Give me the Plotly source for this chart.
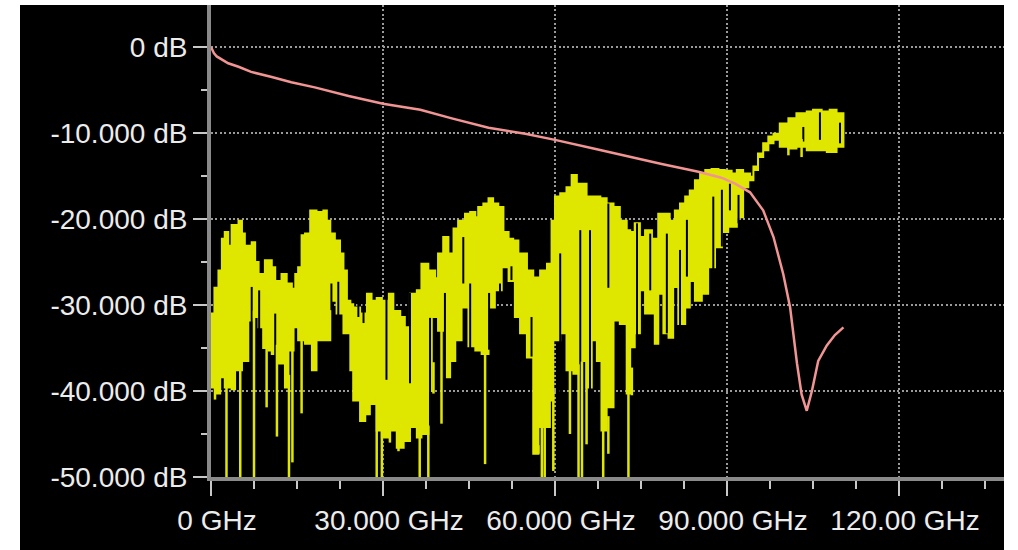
import numpy as np
import plotly.graph_objects as go

# ---------------- data ----------------
# Yellow trace: upper envelope (GHz, dB)
up_freq = [0.0, 0.6, 1.3, 1.9, 2.4, 3.0, 3.6, 4.8, 5.4, 5.9, 7.1, 7.7, 8.3, 9.4, 10.6, 11.2, 12.3, 13.2, 14.1, 14.7,
           15.2, 15.8, 16.4, 17.3, 18.4, 19.6, 20.2, 20.8, 21.6, 22.5, 23.1, 23.7, 24.3, 24.8, 26.0, 27.2, 28.0, 28.9,
           29.8, 31.0, 31.8, 33.0, 33.8, 34.7, 35.9, 36.7, 37.9, 39.1, 39.6, 40.5, 41.4, 42.3, 43.1, 44.3, 45.2, 46.1,
           46.6, 47.5, 48.4, 49.2, 50.1, 51.0, 51.9, 52.7, 53.6, 55.1, 56.2, 57.4, 58.6, 59.4, 60.0, 60.9, 62.0, 62.9,
           63.8, 64.9, 65.5, 66.7, 67.9, 69.0, 70.2, 71.3, 72.5, 73.1, 73.9, 74.8, 75.7, 76.9, 78.0, 79.2, 80.0, 80.9,
           81.8, 82.7, 83.5, 84.4, 85.3, 86.2, 87.3, 88.5, 89.6, 90.8, 91.7, 92.8, 94.0, 94.6, 95.4, 96.3, 97.2, 98.1,
           99.2, 100.7, 102.1, 103.9, 105.0, 106.5, 107.9, 109.1, 110.3]
up_db = [-31, -28, -26, -22.3, -21.5, -23.1, -20.7, -20.2, -21.7, -23.1, -22.7, -25, -26.4, -24.8, -25.6, -27.2, -26.4,
         -27.5, -28.1, -26.4, -25.6, -21.9, -21.7, -19, -19.2, -19, -20.2, -21.7, -22.5, -24, -26, -29.5, -29.9, -30.3,
         -31, -28.7, -29.5, -29.2, -29.5, -28.7, -30.7, -31.4, -32.6, -28.7, -28.3, -25.2, -26, -26.9, -24, -22.1, -24,
         -21.1, -20.2, -19.4, -19.2, -19.8, -18.6, -18.2, -17.6, -18.2, -18.6, -21.5, -22.3, -22.5, -24, -26, -26.8,
         -26, -25.2, -20.2, -17.4, -17, -16.3, -14.9, -15.9, -15.9, -17.4, -17.4, -17.6, -18.2, -18.6, -20.2, -21.3,
         -21.5, -20.5, -22.1, -21.3, -22.3, -19.4, -19.4, -20.2, -19, -18.2, -17.4, -16.7, -15.5, -14.7, -14.3, -14.2,
         -14.3, -14.4, -14.7, -14.3, -14.7, -15.5, -13.9, -12.4, -11.2, -10.4, -10.1, -8.9, -8.3, -7.7, -7.5, -7.3,
         -7.5, -7.3, -7.7, -8.5]

# Yellow trace: lower envelope (GHz, dB)
lo_freq = [0.0, 0.7, 1.6, 2.4, 3.6, 4.2, 5.4, 6.5, 7.1, 8.3, 9.1, 10.0, 10.6, 11.7, 12.9, 13.5, 14.4, 15.2, 16.4, 17.6,
           18.4, 19.6, 20.8, 21.9, 23.1, 24.3, 24.8, 26.0, 26.9, 27.7, 28.9, 29.8, 31.2, 32.4, 33.6, 34.7, 35.9, 36.7,
           37.9, 38.5, 39.6, 40.8, 41.7, 42.6, 43.7, 44.9, 46.1, 47.2, 48.4, 49.5, 50.7, 51.9, 53.0, 53.9, 55.1, 56.2,
           57.1, 58.0, 59.1, 59.7, 60.9, 62.0, 63.2, 64.4, 65.5, 66.4, 67.3, 68.1, 69.0, 70.2, 71.3, 72.5, 73.1, 73.9,
           74.8, 75.7, 76.6, 77.4, 78.0, 78.9, 79.8, 80.6, 81.5, 82.7, 83.5, 84.4, 85.6, 86.7, 87.9, 89.1, 90.2, 91.7,
           92.8, 93.7, 94.6, 95.4, 96.3, 97.2, 98.1, 99.2, 100.7, 102.1, 103.9, 105.6, 107.4, 109.1, 110.3]
lo_db = [-36.5, -39.6, -40.3, -38.4, -39.6, -39.8, -37.6, -36.5, -31.8, -31.4, -32.6, -35, -35.3, -35.7, -36.8, -39.6,
         -35.3, -32.6, -34.1, -34.5, -37.6, -34.1, -34.1, -29.5, -31, -33.3, -37.6, -41.1, -43.5, -42.7, -41.5, -44.6,
         -45.4, -44.6, -46.6, -45.8, -44.2, -45.4, -45, -40, -31.4, -33, -38.4, -36.5, -34.1, -30.3, -34.8, -35.3,
         -35.7, -30.3, -28.3, -25.6, -27.2, -31.4, -33.3, -36.1, -47.3, -44.2, -44.2, -41.1, -34.1, -33.3, -37.6, -38,
         -36.5, -39.6, -34.1, -36.5, -44.6, -41.9, -31.8, -32.2, -40.3, -34.9, -33.3, -28.3, -31, -31, -34.5, -28.7,
         -33.3, -33.8, -27.9, -32.2, -30.3, -27.2, -29.5, -28.7, -25.6, -23.3, -21.5, -20.9, -19.8, -16.3, -15.1,
         -14.3, -12.8, -12, -11.2, -10.8, -11.6, -11.8, -11.6, -12, -12, -12.2, -11.6]

# Yellow trace: deep downward spikes (GHz, dB at spike tip)
spike_freq = [0.7, 2.7, 5.1, 7.5, 9.7, 11.5, 13.6, 14.2, 15.8, 26.6, 28.9, 29.8, 31.2, 32.7, 36.4, 37.9, 38.8, 40.2,
              47.8, 57.1, 57.7, 58.2, 59.7, 62.6, 64.1, 64.7, 65.5, 68.4, 69.3, 72.8, 73.4, 100.7, 103.0]
spike_db = [-41, -50, -50, -50, -41.9, -45.3, -50, -48.3, -42.6, -43.5, -50, -50, -46, -47, -50, -50, -40.3, -43.8,
            -48.5, -47.3, -50, -50, -49.3, -45, -50, -50, -46.2, -50, -47.3, -50, -40.5, -12.6, -12.8]

# Yellow trace: dark notches inside the band (GHz, top dB, bottom dB)
notch_freq = [7.1, 8.4, 11.2, 21.0, 22.2, 25.7, 26.6, 30.6, 34.7, 38.2, 40.8, 44.0, 45.2, 48.5, 50.4, 52.4, 55.9,
              60.9, 64.4, 66.1, 69.3, 74.3, 76.6, 79.5, 81.8, 83.0, 87.6, 89.1, 90.5, 92.0, 103.3, 106.2, 109.7]
notch_top = [-27.9, -28.3, -31, -27.5, -27.3, -25.2, -26.7, -28.6, -28.6, -31.5, -28.6, -22.1, -27.5, -28.6, -27.5,
             -25.5, -31.4, -24, -21.3, -21.3, -18.2, -20.5, -21.7, -21.7, -23.6, -20.1, -17.4, -16.6, -15.9, -17.2,
             -9.3, -7.6, -8.8]
notch_bot = [-36.8, -37.2, -44.9, -30.6, -33.7, -31.4, -32.1, -38.7, -39.1, -44.1, -39.1, -27.5, -35.6, -35.2, -30.2,
             -27.1, -36.0, -44.1, -45.7, -45.7, -28, -34.8, -28.3, -33.3, -32.5, -26.7, -27.9, -23.2, -19, -20.5,
             -11.0, -10.8, -11.2]

# Red/pink trace (GHz, dB)
red_freq = [0, 0.5, 1.0, 1.9, 3.0, 4.8, 7.0, 10.6, 14.0, 18.1, 24.0, 30.0, 36.5, 42.0, 48.4, 54.8, 60.0, 66.7, 73.1,
            78.6, 85.0, 89.0, 91.4, 94.0, 96.3, 98.1, 99.8, 101.0, 102.2, 103.0, 103.9, 104.8, 105.9, 107.4, 108.8, 110.3]
red_db = [0, -0.7, -1.1, -1.5, -1.9, -2.3, -2.9, -3.5, -4.1, -4.7, -5.7, -6.6, -7.3, -8.3, -9.4, -10.1, -10.8, -11.8,
          -12.8, -13.6, -14.5, -15.2, -15.9, -16.9, -19.0, -22.1, -26.4, -30.3, -36.8, -40.4, -42.3, -40.0, -36.5,
          -34.7, -33.5, -32.6]

x_tickvals = [0, 30, 60, 90, 120]
x_ticktext = ["0 GHz", "30.000 GHz", "60.000 GHz", "90.000 GHz", "120.00 GHz"]
y_tickvals = [0, -10, -20, -30, -40, -50]
y_ticktext = ["0 dB", "-10.000 dB", "-20.000 dB", "-30.000 dB", "-40.000 dB", "-50.000 dB"]

# ---------------- figure ----------------
YEL = "#dfe600"
RED = "#f09494"
AX = "#8a8a8a"
TXT = "#ececec"
GRID = "#9a9a9a"

fig = go.Figure()

# band between envelopes
band_x = list(up_freq) + list(reversed(lo_freq))
band_y = list(up_db) + list(reversed(lo_db))
fig.add_trace(go.Scatter(x=band_x, y=band_y, mode="lines", fill="toself", fillcolor=YEL,
                         line=dict(color=YEL, width=2, shape="hv"), hoverinfo="skip"))

# dark notches
nx, ny = [], []
for f, t, b in zip(notch_freq, notch_top, notch_bot):
    nx += [f, f, None]
    ny += [t, b, None]
fig.add_trace(go.Scatter(x=nx, y=ny, mode="lines", line=dict(color="black", width=2), hoverinfo="skip"))

# yellow spikes
sx, sy = [], []
for f, d in zip(spike_freq, spike_db):
    start = float(np.interp(f, lo_freq, lo_db))
    sx += [f, f, None]
    sy += [start + 1.0, d, None]
fig.add_trace(go.Scatter(x=sx, y=sy, mode="lines", line=dict(color=YEL, width=2.5), hoverinfo="skip"))

# red trace
fig.add_trace(go.Scatter(x=red_freq, y=red_db, mode="lines", line=dict(color=RED, width=2.5)))

font = dict(family="Liberation Sans, Arial, sans-serif", size=28, color=TXT)

fig.update_layout(
    width=1018, height=550,
    margin=dict(l=211, r=14, t=5, b=73),
    paper_bgcolor="white", plot_bgcolor="black",
    showlegend=False,
    shapes=[dict(type="rect", xref="paper", yref="paper",
                 x0=(20 - 211) / 793, x1=1.0, y0=-73 / 472, y1=1.0,
                 fillcolor="black", line=dict(width=0), layer="below")],
)

fig.update_xaxes(
    range=[0, 138.3], tickvals=x_tickvals, ticktext=x_ticktext,
    ticks="outside", ticklen=15, tickwidth=2, tickcolor="#c8c8c8",
    showline=True, linecolor=AX, linewidth=4, mirror=False,
    showgrid=True, gridcolor=GRID, gridwidth=2, griddash="2px,2.4px",
    zeroline=False, tickfont=font, ticklabelstandoff=0, ticklabelshift=6,
    minor=dict(dtick=7.5, tick0=0, ticks="outside", ticklen=8, tickwidth=2, tickcolor="#c8c8c8", showgrid=False),
)
fig.update_yaxes(
    range=[-50, 4.88], tickvals=y_tickvals, ticktext=y_ticktext,
    ticks="outside", ticklen=14, tickwidth=2, tickcolor="#c8c8c8",
    showline=True, linecolor=AX, linewidth=4, mirror=False,
    showgrid=True, gridcolor=GRID, gridwidth=2, griddash="2px,2.4px",
    zeroline=False, tickfont=font, ticklabelstandoff=0,
    minor=dict(dtick=5, tick0=0, ticks="outside", ticklen=6, tickwidth=2, tickcolor="#c8c8c8", showgrid=False),
)

fig.write_html("out.html")
